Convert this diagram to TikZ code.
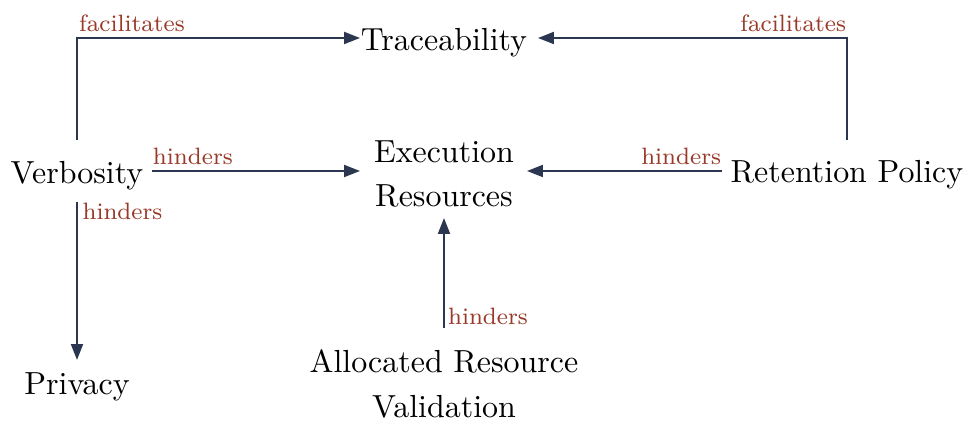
\documentclass[tikz,border=0pt]{standalone}
\usetikzlibrary{arrows.meta,calc}
\definecolor{linkcol}{HTML}{2B3650}
\definecolor{labelcol}{HTML}{983A2A}
\begin{document}
\begin{tikzpicture}[x=0.3255pt,y=-0.3255pt,
  concept/.style={inner sep=0pt,font=\fontsize{10.4}{12.5}\selectfont,text=black},
  twoline/.style={inner sep=0pt,text=black,align=center,font=\fontsize{10.4}{14.6}\selectfont},
  link/.style={draw=linkcol,line width=0.65pt,-{Triangle[length=5.2pt,width=3.9pt]}},
  rel/.style={text=labelcol,font=\fontsize{7.7}{9}\selectfont,inner sep=0pt}]
\useasboundingbox (0,0) rectangle (963,421);

% concepts
\node[concept,anchor=base] (trace) at (444,51) {Traceability};
\node[twoline] (exec) at (444,174) {Execution\\Resources};
\node[concept,anchor=base] (verb) at (77,184) {Verbosity};
\node[concept,anchor=base] (ret) at (847,183) {Retention Policy};
\node[concept,anchor=base] (priv) at (77,395) {Privacy};
\node[twoline] (alloc) at (444,384) {Allocated Resource\\Validation};

% relations
\draw[link] ($(verb.base)+(0,-44)$) |- ($(trace.base)+(-84,-13)$)
  node[rel,pos=0.5,anchor=base west,xshift=0.4pt,yshift=2pt] {facilitates};
\draw[link] ($(ret.base)+(0,-43)$) |- ($(trace.base)+(94,-13)$)
  node[rel,pos=0.5,anchor=base east,yshift=2pt] {facilitates};
\draw[link] ($(verb.base)+(75,-13)$) -- ($(exec.center)+(-84,-3)$)
  node[rel,pos=0,anchor=base west,yshift=2pt] {hinders};
\draw[link] ($(ret.base)+(-125,-12)$) -- ($(exec.center)+(83,-3)$)
  node[rel,pos=0,anchor=base east,yshift=2pt] {hinders};
\draw[link] ($(verb.base)+(0,18)$) -- ($(priv.base)+(0,-35)$)
  node[rel,pos=0,anchor=north west,xshift=1.5pt] {hinders};
\draw[link] ($(alloc.center)+(0,-56)$) -- ($(exec.center)+(0,44)$)
  node[rel,pos=0,anchor=base west,xshift=1pt,yshift=1pt] {hinders};
\end{tikzpicture}
\end{document}
